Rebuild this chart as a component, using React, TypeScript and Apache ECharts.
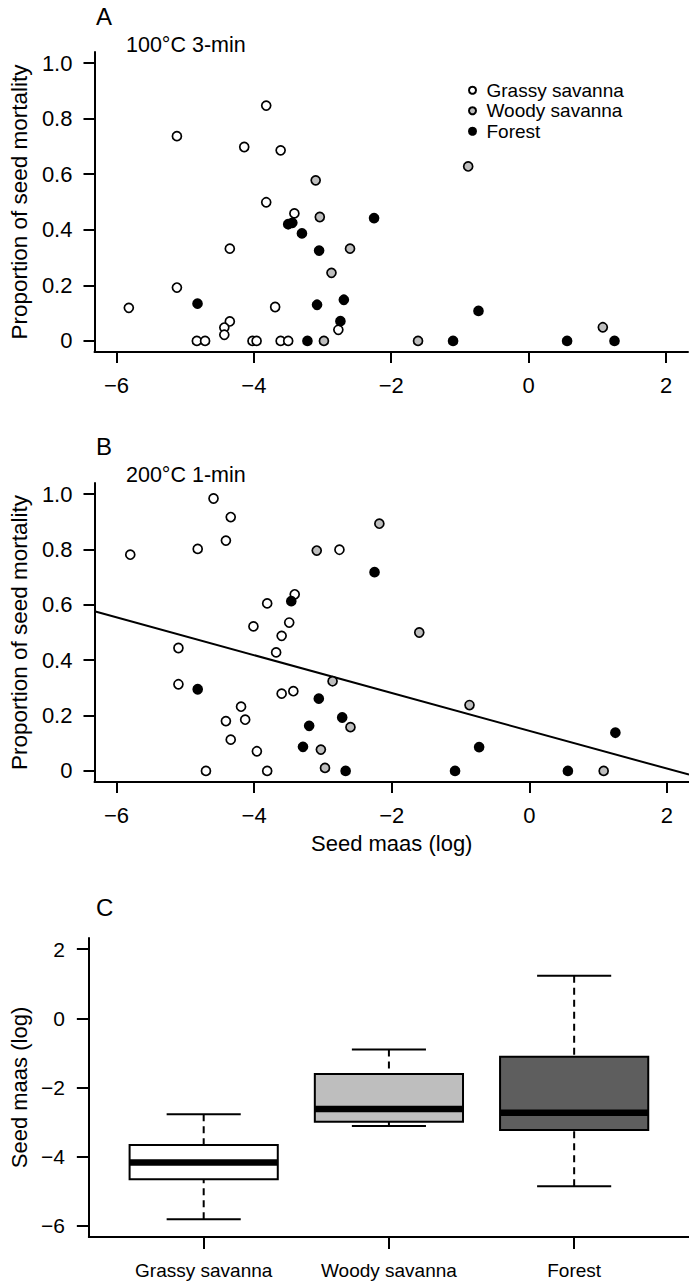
import React, { useEffect, useRef } from "react";
import * as echarts from "echarts";

const W = 689;
const H = 1282;
const FONT = '"Liberation Sans", Arial, Helvetica, sans-serif';

// ---------- Data ----------
const groupNames = ["Grassy savanna", "Woody savanna", "Forest"];
const groupFills = ["#ffffff", "#bebebe", "#000000"];

// Panel A: 100°C 3-min  [log seed mass, proportion of seed mortality]
const aGrassy = [
  [-3.82, 0.847], [-5.12, 0.737], [-4.14, 0.698], [-3.61, 0.686], [-3.82, 0.499],
  [-3.41, 0.459], [-4.35, 0.332], [-5.12, 0.192], [-5.82, 0.119], [-3.69, 0.122],
  [-4.35, 0.07], [-4.43, 0.048], [-4.43, 0.022], [-2.77, 0.04], [-4.83, 0],
  [-4.71, 0], [-4.02, 0], [-3.96, 0], [-3.61, 0], [-3.5, 0],
];
const aWoody = [
  [-3.1, 0.578], [-3.04, 0.446], [-2.6, 0.332], [-2.87, 0.245], [-2.98, 0],
  [-0.88, 0.628], [-1.61, 0], [1.08, 0.049],
];
const aForest = [
  [-3.5, 0.42], [-3.44, 0.425], [-3.3, 0.387], [-3.05, 0.325], [-2.25, 0.442],
  [-4.82, 0.134], [-3.08, 0.13], [-2.69, 0.148], [-2.74, 0.071], [-3.22, 0],
  [-0.73, 0.108], [-1.1, 0], [0.56, 0], [1.25, 0],
];

// Panel B: 200°C 1-min
const bGrassy = [
  [-4.59, 0.984], [-4.34, 0.917], [-4.41, 0.832], [-4.82, 0.802], [-5.8, 0.781],
  [-2.76, 0.799], [-3.41, 0.638], [-3.81, 0.605], [-4.01, 0.522], [-3.49, 0.536],
  [-3.6, 0.488], [-3.68, 0.428], [-5.1, 0.444], [-5.1, 0.313], [-3.6, 0.279],
  [-3.43, 0.288], [-4.19, 0.232], [-4.41, 0.18], [-4.13, 0.185], [-4.34, 0.113],
  [-3.96, 0.071], [-4.7, 0], [-3.81, 0],
];
const bWoody = [
  [-2.18, 0.893], [-3.09, 0.796], [-2.86, 0.324], [-2.6, 0.158], [-3.03, 0.077],
  [-2.97, 0.011], [-1.6, 0.5], [-0.87, 0.238], [1.08, 0],
];
const bForest = [
  [-2.25, 0.718], [-3.46, 0.613], [-4.82, 0.295], [-3.06, 0.261], [-2.72, 0.193],
  [-3.2, 0.163], [-3.29, 0.087], [-2.67, 0], [-0.73, 0.086], [-1.08, 0],
  [0.56, 0], [1.25, 0.138],
];

// Panel B fitted regression line: y = intercept + slope * x
const fitIntercept = 0.145;
const fitSlope = -0.0683;

// Panel C: box plot stats of seed mass (log)
const boxLow = [-5.81, -3.11, -4.85];
const boxQ1 = [-4.65, -2.99, -3.23];
const boxMedian = [-4.17, -2.62, -2.73];
const boxQ3 = [-3.66, -1.61, -1.11];
const boxHigh = [-2.77, -0.9, 1.23];
const boxFills = ["#ffffff", "#bebebe", "#5e5e5e"];

// Tick values
const xTicks = [-6, -4, -2, 0, 2];
const propTicks = [0, 0.2, 0.4, 0.6, 0.8, 1.0];
const massTicks = [-6, -4, -2, 0, 2];
const catTicks = [1, 2, 3];

// Axis extents (R style 4% padding)
const X_MIN = -6.32, X_MAX = 2.32;
const P_MIN = -0.04, P_MAX = 1.04;
const C_MIN = 0.38, C_MAX = 3.62;

const minusFmt = (v: number) => (v < 0 ? "\u2212" + Math.abs(v) : String(v));
const propFmt = (v: number) => (Math.abs(v) < 1e-9 ? "0" : v.toFixed(1));

const lineStyle = { color: "#000", width: 2 };

function xValueAxis(gridIndex: number, name: string) {
  return {
    type: "value",
    gridIndex,
    min: X_MIN,
    max: X_MAX,
    name,
    nameLocation: "middle",
    nameGap: 50,
    nameTextStyle: { fontSize: 22, fontFamily: FONT, color: "#000" },
    axisLine: { show: true, onZero: false, lineStyle },
    axisTick: { show: true, length: 11, lineStyle, customValues: xTicks },
    axisLabel: {
      show: true, margin: 22, fontSize: 22, fontFamily: FONT, color: "#000",
      customValues: xTicks, formatter: minusFmt,
    },
    splitLine: { show: false },
  };
}

function yPropAxis(gridIndex: number) {
  return {
    type: "value",
    gridIndex,
    min: P_MIN,
    max: P_MAX,
    name: "Proportion of seed mortality",
    nameLocation: "middle",
    nameGap: 63,
    nameTextStyle: { fontSize: 22.5, fontFamily: FONT, color: "#000" },
    axisLine: { show: true, onZero: false, lineStyle },
    axisTick: { show: true, length: 11, lineStyle, customValues: propTicks },
    axisLabel: {
      show: true, margin: 22, fontSize: 22, fontFamily: FONT, color: "#000",
      customValues: propTicks, formatter: propFmt,
    },
    splitLine: { show: false },
  };
}

function scatter(name: string, data: number[][], idx: number, fill: string) {
  return {
    type: "scatter",
    name,
    xAxisIndex: idx,
    yAxisIndex: idx,
    data,
    symbol: "circle",
    symbolSize: 9,
    itemStyle: { color: fill, borderColor: "#000", borderWidth: 1.7, opacity: 1 },
    emphasis: { disabled: true },
    z: 3,
  };
}

export default function App() {
  const ref = useRef<HTMLDivElement>(null);

  useEffect(() => {
    if (!ref.current) return;
    const chart = echarts.init(ref.current, undefined, { renderer: "svg", width: W, height: H });

    const boxData = groupNames.map((_, i) => [
      catTicks[i], boxLow[i], boxQ1[i], boxMedian[i], boxQ3[i], boxHigh[i],
    ]);

    const option: any = {
      animation: false,
      backgroundColor: "#ffffff",
      textStyle: { fontFamily: FONT, color: "#000" },
      grid: [
        { left: 87, top: 52, width: 601, height: 300 },
        { left: 88, top: 483, width: 601, height: 299 },
        { left: 88, top: 938, width: 601, height: 299 },
      ],
      legend: {
        show: true,
        orient: "vertical",
        left: 463,
        top: 75,
        itemGap: 0,
        itemWidth: 18,
        itemHeight: 7,
        selectedMode: false,
        data: groupNames.map((n) => ({ name: n, icon: "circle" })),
        textStyle: { fontSize: 19, fontFamily: FONT, color: "#000", lineHeight: 20.5 },
      },
      xAxis: [
        xValueAxis(0, ""),
        xValueAxis(1, "Seed maas (log)"),
        {
          type: "value",
          gridIndex: 2,
          min: C_MIN,
          max: C_MAX,
          axisLine: { show: true, onZero: false, lineStyle },
          axisTick: { show: true, length: 12, lineStyle, customValues: catTicks },
          axisLabel: {
            show: true, margin: 24, fontSize: 19, fontFamily: FONT, color: "#000",
            customValues: catTicks,
            formatter: (v: number) => groupNames[Math.round(v) - 1] ?? "",
          },
          splitLine: { show: false },
        },
      ],
      yAxis: [
        yPropAxis(0),
        yPropAxis(1),
        {
          type: "value",
          gridIndex: 2,
          min: -6.32,
          max: 2.32,
          name: "Seed maas (log)",
          nameLocation: "middle",
          nameGap: 57,
          nameTextStyle: { fontSize: 22, fontFamily: FONT, color: "#000" },
          axisLine: { show: true, onZero: false, lineStyle },
          axisTick: { show: true, length: 12, lineStyle, customValues: massTicks },
          axisLabel: {
            show: true, margin: 24, fontSize: 21, fontFamily: FONT, color: "#000",
            customValues: massTicks, formatter: minusFmt,
          },
          splitLine: { show: false },
        },
      ],
      graphic: [
        { type: "text", x: 96, y: 16, style: { text: "A", fontSize: 24, fontFamily: FONT, fill: "#000", verticalAlign: "middle" } },
        { type: "text", x: 126, y: 45, style: { text: "100°C 3-min", fontSize: 21.5, fontFamily: FONT, fill: "#000", verticalAlign: "middle" } },
        { type: "text", x: 96, y: 446, style: { text: "B", fontSize: 24, fontFamily: FONT, fill: "#000", verticalAlign: "middle" } },
        { type: "text", x: 126, y: 475, style: { text: "200°C 1-min", fontSize: 21.5, fontFamily: FONT, fill: "#000", verticalAlign: "middle" } },
        { type: "text", x: 96, y: 907, style: { text: "C", fontSize: 24, fontFamily: FONT, fill: "#000", verticalAlign: "middle" } },
      ],
      series: [
        scatter(groupNames[0], aGrassy, 0, groupFills[0]),
        scatter(groupNames[1], aWoody, 0, groupFills[1]),
        scatter(groupNames[2], aForest, 0, groupFills[2]),
        scatter(groupNames[0], bGrassy, 1, groupFills[0]),
        scatter(groupNames[1], bWoody, 1, groupFills[1]),
        scatter(groupNames[2], bForest, 1, groupFills[2]),
        {
          type: "line",
          name: "fit",
          xAxisIndex: 1,
          yAxisIndex: 1,
          data: [X_MIN, X_MAX].map((x) => [x, fitIntercept + fitSlope * x]),
          symbol: "none",
          lineStyle: { color: "#000", width: 2 },
          emphasis: { disabled: true },
          z: 2,
        },
        {
          type: "custom",
          name: "box",
          xAxisIndex: 2,
          yAxisIndex: 2,
          data: boxData,
          encode: { x: 0, y: [1, 2, 3, 4, 5] },
          renderItem: (params: any, api: any) => {
            const i = api.value(0);
            const idx = params.dataIndex;
            const cx = api.coord([i, api.value(3)])[0];
            const yLo = api.coord([i, api.value(1)])[1];
            const yQ1 = api.coord([i, api.value(2)])[1];
            const yMed = api.coord([i, api.value(3)])[1];
            const yQ3 = api.coord([i, api.value(4)])[1];
            const yHi = api.coord([i, api.value(5)])[1];
            const boxW = api.size([0.8, 0])[0];
            const capW = boxW / 2;
            const solid = { stroke: "#000", lineWidth: 2 };
            const dashed = { stroke: "#000", lineWidth: 2, lineDash: [7, 5] };
            return {
              type: "group",
              children: [
                { type: "line", shape: { x1: cx, y1: yHi, x2: cx, y2: yQ3 }, style: dashed },
                { type: "line", shape: { x1: cx, y1: yLo, x2: cx, y2: yQ1 }, style: dashed },
                { type: "line", shape: { x1: cx - capW / 2, y1: yHi, x2: cx + capW / 2, y2: yHi }, style: solid },
                { type: "line", shape: { x1: cx - capW / 2, y1: yLo, x2: cx + capW / 2, y2: yLo }, style: solid },
                {
                  type: "rect",
                  shape: { x: cx - boxW / 2, y: yQ3, width: boxW, height: yQ1 - yQ3 },
                  style: { fill: boxFills[idx], stroke: "#000", lineWidth: 2 },
                },
                {
                  type: "line",
                  shape: { x1: cx - boxW / 2, y1: yMed, x2: cx + boxW / 2, y2: yMed },
                  style: { stroke: "#000", lineWidth: 6.5, lineCap: "butt" },
                },
              ],
            };
          },
          z: 2,
        },
      ],
    };

    chart.setOption(option);
    return () => chart.dispose();
  }, []);

  return (
    <div
      ref={ref}
      style={{ position: "absolute", left: 0, top: 0, width: W, height: H, background: "#fff" }}
    />
  );
}
